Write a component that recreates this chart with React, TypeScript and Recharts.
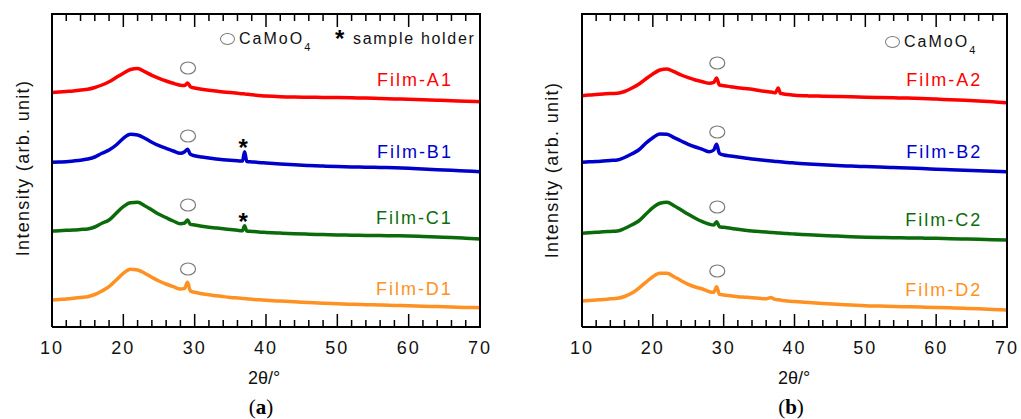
import { LineChart, Line, XAxis, YAxis, ReferenceDot } from "recharts";

// 2θ positions (deg) shared by all traces
const twoTheta = [
  10, 11, 12, 13, 14, 15, 16, 17, 18, 19, 20, 21, 22, 23, 24, 25, 26, 27, 28,
  28.6, 29, 29.4,
  30, 31, 32, 33, 34, 35, 36,
  36.7, 37, 37.3, 37.7, 38, 38.3,
  39, 40,
  42, 44, 46, 48, 50, 52, 54, 56, 58, 60, 62, 64, 66, 68, 70,
];

// intensities (arb. unit, offset stacked)
const filmA1 = [
  234.5, 235, 235.5, 236, 237, 237.7, 239.5, 242, 245.3, 249.5, 253.7, 257.5, 258.5, 255.3, 251.7, 248.7, 246, 243.7, 241.8,
  241.5, 244, 240.3,
  239, 237.7, 236.7, 235.9, 235.1, 234.4, 233.7,
  233.3, 233, 232.8, 232.5, 232.3, 232.1,
  231.5, 231,
  230.3, 229.9, 229.7, 229.6, 229.5, 229.2, 228.9, 228.5, 228.1, 227.7, 227.2, 226.8, 226.3, 225.7, 225.3,
];
const filmB1 = [
  164.7, 165, 165.3, 166, 166.8, 168, 170, 173.7, 177, 182, 188.7, 192.7, 192, 188.7, 184.7, 181.3, 178.7, 176, 173.7,
  175.3, 177.7, 172.7,
  171.3, 170, 168.9, 168, 167.3, 166.7, 166.2,
  165.9, 175.3, 165.5, 165.3, 165.1, 165,
  164.5, 164,
  163, 162.2, 161.5, 160.9, 160.4, 160, 159.8, 159.5, 159.2, 158.7, 158, 157.3, 156.7, 156, 155.3,
];
const filmC1 = [
  96, 96.3, 96.7, 97, 97.5, 98, 100, 103.7, 107, 113.7, 120.3, 124.3, 124.7, 121.3, 117, 112.7, 109.3, 106, 103.3,
  104, 107, 102.7,
  102, 100.7, 99.7, 99, 98.3, 97.5, 96.7,
  96.3, 101.3, 96, 95.8, 95.6, 95.4,
  95, 94.6,
  93.9, 93.3, 92.8, 92.4, 92, 91.8, 91.6, 91.4, 91.2, 91, 90.5, 90, 89.5, 88.8, 88,
];
const filmD1 = [
  27, 27.5, 28, 28.7, 29.5, 30.3, 32.5, 36, 40.3, 47, 53.7, 57.7, 57, 53.7, 49.7, 46, 43, 40.3, 38,
  38.7, 44.7, 36,
  34.7, 33.3, 32.2, 31.3, 30.4, 29.6, 29,
  28.6, 28.4, 28.2, 28, 27.8, 27.6,
  27.2, 26.7,
  25.9, 25.2, 24.5, 23.8, 23.2, 22.7, 22.3, 22, 21.6, 21.2, 20.8, 20.4, 20, 19.6, 19.3,
];
const filmA2 = [
  231.3, 232, 232.5, 233, 233.5, 233.7, 235.5, 238.7, 242.7, 248, 253, 257, 258, 255.3, 252, 249.3, 247, 245.3, 243.7,
  244.7, 249, 242,
  241.3, 240.3, 239.3, 238.5, 237.7, 236.5, 235.5,
  235, 234.6, 234.3, 239, 233.7, 233.3,
  232.5, 231.8,
  231.1, 230.8, 230.5, 230.2, 229.8, 229.5, 229.2, 228.9, 228.5, 227.9, 227.3, 226.7, 226, 225.3, 224.3,
];
const filmB2 = [
  164.7, 165.2, 165.5, 166, 166.5, 167, 169.5, 173, 177, 183.7, 189.3, 193, 192.7, 189.3, 186, 182.7, 180, 177.7, 175.3,
  177, 182.7, 173.7,
  172, 171, 170, 169, 168, 167.2, 166.5,
  166, 165.8, 165.6, 165.4, 165.2, 165,
  164.5, 164,
  163, 162.2, 161.5, 160.9, 160.4, 159.9, 159.4, 159, 158.4, 157.8, 157.3, 156.8, 156.3, 155.8, 155.3,
];
const filmC2 = [
  93.7, 94.2, 94.7, 95.2, 95.6, 96, 98.5, 102, 106, 112.7, 119.3, 123.7, 124.7, 121.3, 117, 112.7, 108.7, 105.3, 102.7,
  102, 105.3, 100.3,
  99.7, 98.7, 97.7, 96.8, 96, 95.4, 94.9,
  94.6, 94.4, 94.3, 94.1, 93.9, 93.8,
  93.4, 93,
  92.2, 91.5, 90.9, 90.3, 89.8, 89.5, 89.3, 89.1, 88.9, 88.7, 88.3, 88, 87.7, 87.3, 87,
];
const filmD2 = [
  26, 26.5, 27, 27.5, 28.2, 28.7, 30.5, 33.7, 38.7, 44.7, 50.3, 53.7, 53.7, 50.3, 46.3, 42.7, 40, 38, 35.3,
  34.7, 40.3, 32.7,
  32, 31.2, 30.3, 29.8, 29.3, 28.7, 28.2,
  29.5, 28.4, 27.6, 27.2, 26.9, 26.6,
  26, 25.4,
  24.4, 23.5, 22.7, 22, 21.3, 20.9, 20.5, 20.2, 19.9, 19.6, 19.2, 18.7, 18.2, 17.6, 17,
];

const majorTicks = [10, 20, 30, 40, 50, 60, 70];
const minorTicks = [12, 14, 16, 18, 22, 24, 26, 28, 32, 34, 36, 38, 42, 44, 46, 48, 52, 54, 56, 58, 62, 64, 66, 68];
const colors = ["#ff0000", "#0000cc", "#0b6b0b", "#ff9122"];

const namesA = ["Film-A1", "Film-B1", "Film-C1", "Film-D1"];
const namesB = ["Film-A2", "Film-B2", "Film-C2", "Film-D2"];
const labelYA = [247, 175, 109, 38];
const labelYB = [247, 175, 107, 37];
const circleYA = [259, 191, 122, 58];
const circleYB = [264, 195, 120, 56];
const starYA = [184, 110]; // sample holder marks on B1, C1

const Y_TOP = 313;
const SANS = '"Liberation Sans", Arial, sans-serif';

// frame and inward ticks, drawn as line series (null breaks the path)
const frameData = [
  { x: 10, y: 0 }, { x: 70, y: 0 }, { x: 70, y: Y_TOP }, { x: 10, y: Y_TOP }, { x: 10, y: 0 },
];
const tickData = (list: number[], len: number) =>
  list.flatMap((t) => [
    { x: t, y: 0 }, { x: t, y: len }, { x: t, y: null },
    { x: t, y: Y_TOP - len }, { x: t, y: Y_TOP }, { x: t, y: null },
  ]);
const majorTickData = tickData(majorTicks, 13);
const minorTickData = tickData(minorTicks, 7);

const BottomLabel = (p: any) => (
  <text x={p.x} y={p.y + 27} textAnchor="middle" fontFamily={SANS} fontSize={18} letterSpacing={2} fill="#111">
    {p.payload.value}
  </text>
);

const ellipseShape = (p: any) => (
  <ellipse cx={p.cx} cy={p.cy} rx={7.5} ry={6} fill="none" stroke="#7a7a7a" strokeWidth={1.2} />
);
const starShape = (p: any) => (
  <text x={p.cx} y={p.cy + 13} textAnchor="middle" fontFamily={SANS} fontSize={24} fontWeight="bold" fill="#000">*</text>
);
const makeLabel = (name: string, color: string) => (p: any) => (
  <text x={p.cx} y={p.cy + 6} textAnchor="end" fontFamily={SANS} fontSize={18} letterSpacing={2} fill={color}>{name}</text>
);
const labelShapesA = namesA.map((n, k) => makeLabel(n, colors[k]));
const labelShapesB = namesB.map((n, k) => makeLabel(n, colors[k]));

function Chart({ series, labelShapes, labelYs, circleYs, circleX, labelX, stars, width, marginRight }: any) {
  const data = twoTheta.map((x, i) => ({ x, s0: series[0][i], s1: series[1][i], s2: series[2][i], s3: series[3][i] }));
  return (
    <LineChart width={width} height={419} data={data} margin={{ top: 14, right: marginRight, bottom: 62, left: 52 }}>
      <XAxis dataKey="x" type="number" domain={[10, 70]} ticks={majorTicks} interval={0} height={30}
        axisLine={false} tickLine={false} tickSize={0} tickMargin={0} tick={BottomLabel} />
      <YAxis hide type="number" domain={[0, Y_TOP]} />
      {[0, 1, 2, 3].map((k) => (
        <Line key={k} dataKey={`s${k}`} type="monotone" stroke={colors[k]} strokeWidth={3.5} dot={false} isAnimationActive={false} />
      ))}
      <Line data={minorTickData} dataKey="y" type="linear" stroke="#000" strokeWidth={1.5} dot={false} isAnimationActive={false} />
      <Line data={majorTickData} dataKey="y" type="linear" stroke="#000" strokeWidth={1.5} dot={false} isAnimationActive={false} />
      <Line data={frameData} dataKey="y" type="linear" stroke="#000" strokeWidth={2} dot={false} isAnimationActive={false} />
      {circleYs.map((y: number, k: number) => (
        <ReferenceDot key={`c${k}`} x={circleX} y={y} r={6} shape={ellipseShape} ifOverflow="visible" />
      ))}
      {stars.map((y: number, k: number) => (
        <ReferenceDot key={`s${k}`} x={36.8} y={y} r={4} shape={starShape} ifOverflow="visible" />
      ))}
      {labelYs.map((y: number, k: number) => (
        <ReferenceDot key={`l${k}`} x={labelX} y={y} r={2} shape={labelShapes[k]} ifOverflow="visible" />
      ))}
    </LineChart>
  );
}

const abs = (s: any) => ({ position: "absolute" as const, ...s });

function Legend({ left, top, holder }: { left: number; top: number; holder: boolean }) {
  return (
    <>
      <div style={abs({ left: left - 7, top: top - 6, width: 13, height: 10, border: "1.2px solid #7a7a7a", borderRadius: "50%" })} />
      <div style={abs({ left: left + 12, top: top - 10, fontSize: 16, lineHeight: "20px", letterSpacing: 2, whiteSpace: "nowrap", color: "#111" })}>
        CaMoO<span style={{ fontSize: 11, position: "relative", top: 7, letterSpacing: 0 }}>4</span>
      </div>
      {holder && (
        <>
          <div style={abs({ left: left + 108, top: top - 12, fontSize: 24, fontWeight: "bold", lineHeight: "24px" })}>*</div>
          <div style={abs({ left: left + 126, top: top - 10, fontSize: 16, lineHeight: "20px", letterSpacing: 1.7, whiteSpace: "nowrap", color: "#111" })}>
            sample holder
          </div>
        </>
      )}
    </>
  );
}

function Panel({ w, chartW, marginRight, letter, yCx, yCy, legendLeft, legendTop, holder, ...rest }: any) {
  return (
    <div style={{ width: w, height: 419, position: "relative", flex: "none" }}>
      <Chart width={chartW} marginRight={marginRight} {...rest} />
      <div style={abs({ left: yCx, top: yCy, transform: "translate(-50%, -50%) rotate(-90deg)", fontSize: 18, letterSpacing: 1.3, whiteSpace: "nowrap", color: "#111" })}>
        Intensity (arb. unit)
      </div>
      <Legend left={legendLeft} top={legendTop} holder={holder} />
      <div style={abs({ left: 264, top: 378, transform: "translate(-50%, -50%)", fontSize: 18, whiteSpace: "nowrap", color: "#111" })}>2θ/°</div>
      <div style={abs({ left: 261, top: 407, transform: "translate(-50%, -50%)", fontSize: 21, fontFamily: '"Liberation Serif", "Times New Roman", serif', whiteSpace: "nowrap" })}>
        (<b>{letter}</b>)
      </div>
    </div>
  );
}

export default function App() {
  return (
    <div style={{ position: "absolute", left: 0, top: 0, width: 1021, height: 419, background: "#fff", display: "flex", fontFamily: SANS }}>
      <Panel w={530} chartW={500} marginRight={20} letter="a" yCx={23} yCy={168} legendLeft={227} legendTop={39} holder={true}
        series={[filmA1, filmB1, filmC1, filmD1]} labelShapes={labelShapesA} labelYs={labelYA} circleYs={circleYA}
        circleX={29.07} labelX={66.2} stars={starYA} />
      <Panel w={491} chartW={491} marginRight={14} letter="b" yCx={22} yCy={170} legendLeft={362} legendTop={42} holder={false}
        series={[filmA2, filmB2, filmC2, filmD2]} labelShapes={labelShapesB} labelYs={labelYB} circleYs={circleYB}
        circleX={29.1} labelX={66.5} stars={[]} />
    </div>
  );
}
